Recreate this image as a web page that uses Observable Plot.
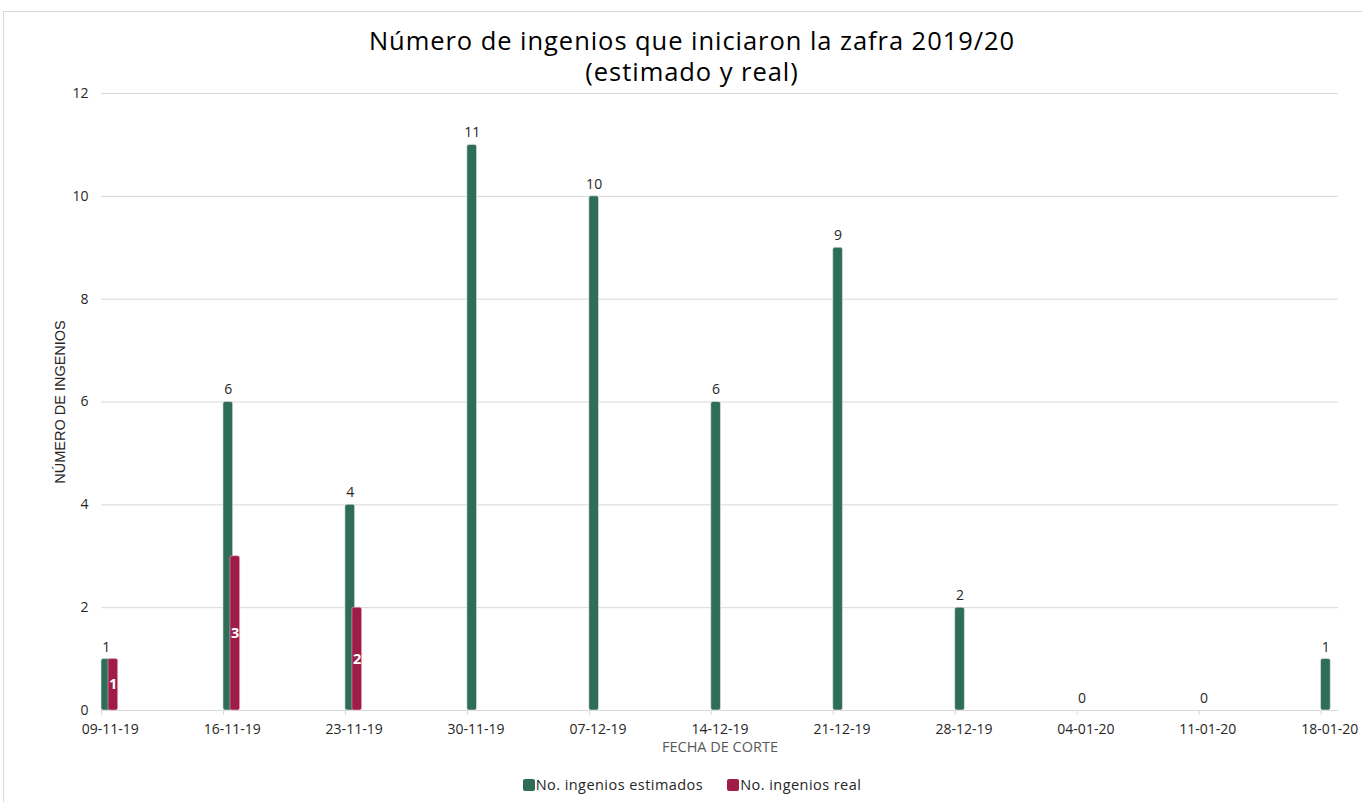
<!DOCTYPE html>
<html>
<head>
<meta charset="utf-8">
<script src="https://cdn.jsdelivr.net/npm/d3@7"></script>
<script src="https://cdn.jsdelivr.net/npm/@observablehq/plot@0.6"></script>
<style>
  html, body { margin: 0; padding: 0; background: #fff; }
  body { width: 1362px; height: 802px; overflow: hidden; position: relative; font-family: "Open Sans", sans-serif; }
  #frame { position: absolute; left: 3px; top: 11px; width: 1400px; height: 820px; border: 1px solid #d9d9d9; box-sizing: border-box; }
  .tl { position: absolute; left: 3px; width: 1378px; text-align: center; font-size: 25.5px; letter-spacing: 0.95px; line-height: 30px; color: #000; }
  #chart { position: absolute; left: 0; top: 80px; }
  #legend { position: absolute; left: 3px; width: 1378px; top: 775px; display: flex; justify-content: center; align-items: center; font-size: 14.5px; letter-spacing: 0.45px; color: #262626; }
  .item { display: flex; align-items: center; margin: 0 12px; }
  .sw { width: 12px; height: 12px; border-radius: 2px; margin-right: 1px; }
</style>
</head>
<body>
<div id="frame"></div>
<div class="tl" style="top:25px">Número de ingenios que iniciaron la zafra 2019/20</div>
<div class="tl" style="top:56px">(estimado y real)</div>
<div id="chart"></div>
<div id="legend"></div>
<script>
// Data
const fechas = ["09-11-19","16-11-19","23-11-19","30-11-19","07-12-19","14-12-19","21-12-19","28-12-19","04-01-20","11-01-20","18-01-20"];
const estimados = [1, 6, 4, 11, 10, 6, 9, 2, 0, 0, 1];
const real = [1, 3, 2, null, null, null, null, null, null, null, null];
const yTicks = [0, 2, 4, 6, 8, 10, 12];
const series = ["No. ingenios estimados", "No. ingenios real"];
const colors = ["#2e6e58", "#a01c48"];

// day offset from first date
const parse = d3.utcParse("%d-%m-%y");
const t0 = parse(fechas[0]);
const dayOf = s => Math.round((parse(s) - t0) / 864e5);

const est = fechas.map((f, i) => ({f, d: dayOf(f), v: estimados[i]}));
const rea = fechas.map((f, i) => ({f, d: dayOf(f), v: real[i]})).filter(r => r.v != null);
const lastDay = dayOf(fechas[fechas.length - 1]);

const chart = Plot.plot({
  width: 1362,
  height: 680,
  marginLeft: 101,
  marginRight: 24,
  marginTop: 13,
  marginBottom: 50,
  style: {fontFamily: "Open Sans, sans-serif", fontSize: "13px", color: "#262626", background: "transparent"},
  x: {type: "linear", domain: [0, lastDay + 1], axis: null},
  y: {domain: [0, 12], axis: null},
  marks: [
    Plot.gridY(yTicks, {stroke: "#d9d9d9", strokeOpacity: 1}),
    Plot.ruleY([0], {stroke: "#d9d9d9"}),
    Plot.axisY(yTicks, {tickSize: 0, tickPadding: 13, tickFormat: d3.format("d"), label: null, fontSize: 14, letterSpacing: 0.3, fill: "#262626"}),
    Plot.ruleX(est, {x: "d", y1: 0, y2: 0, insetBottom: -5, stroke: "#d9d9d9"}),
    Plot.text(est, {x: d => d.d + 0.5, y: 0, dy: 19, text: "f", fontSize: 14, letterSpacing: 0.3, fill: "#262626"}),
    Plot.text(["FECHA DE CORTE"], {frameAnchor: "bottom", dy: 41, fontSize: 14.5, letterSpacing: 0.9, fill: "#595959"}),
    Plot.text(["NÚMERO DE INGENIOS"], {frameAnchor: "left", textAnchor: "middle", dx: -41, rotate: -90, fontSize: 14.5, fill: "#262626", fontFamily: "Liberation Sans, Arial, sans-serif"}),
    Plot.rectY(est, {x1: d => d.d, x2: d => d.d + 0.555, y1: 0, y2: "v", fill: colors[0], stroke: "#e6e6e6", strokeWidth: 0.6, rx: 2}),
    Plot.rectY(rea, {x1: d => d.d + 0.40, x2: d => d.d + 0.955, y1: 0, y2: "v", fill: colors[1], stroke: "#e6b0c0", strokeWidth: 0.6, rx: 2}),
    Plot.text(est, {x: d => d.d + 0.275, y: "v", dy: -12, text: d => String(d.v), fontSize: 14, fill: "#262626"}),
    Plot.text(rea, {x: d => d.d + 0.675, y: d => d.v / 2, text: d => String(d.v), fontSize: 14.5, fontWeight: "bold", fill: "#fff"})
  ]
});
document.getElementById("chart").appendChild(chart);

const legend = document.getElementById("legend");
series.forEach((s, i) => {
  const it = document.createElement("div");
  it.className = "item";
  const sw = document.createElement("span");
  sw.className = "sw";
  sw.style.background = colors[i];
  const tx = document.createElement("span");
  tx.textContent = s;
  it.appendChild(sw); it.appendChild(tx);
  legend.appendChild(it);
});
</script>
</body>
</html>
